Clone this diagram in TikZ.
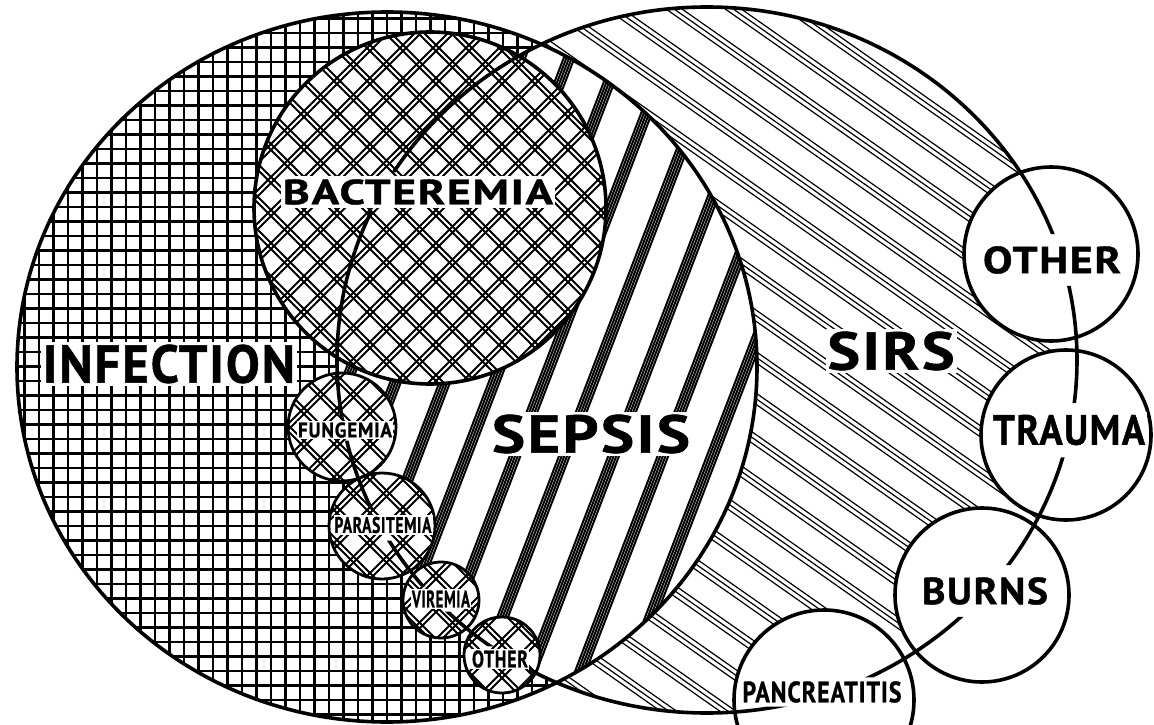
\documentclass[tikz,border=0pt]{standalone}
\usepackage{fontspec}
\setmainfont{PT Sans}
\newfontfamily\lf[LetterSpace=4,BoldFeatures={FakeBold=1}]{PT Sans}
\usepackage{graphicx}
\newcommand{\lbltext}[4]{\resizebox{#1}{#2}{\lf\bfseries\fontsize{#3}{#3}\selectfont #4}}
\begin{document}
\begin{tikzpicture}[x=1pt,y=-1pt,
  gridl/.style={line width=2.3pt,black},
  sirsl/.style={line width=1.2pt,black},
  sepl/.style={line width=2pt,black},
  bacl/.style={line width=1.9pt,black},
  outl/.style={line width=3.6pt,black},
  smallout/.style={line width=2.8pt,black},
  lbl/.style={fill=white,inner xsep=2pt,inner ysep=3pt,outer sep=0pt,anchor=center},
  slbl/.style={fill=white,inner xsep=1pt,inner ysep=1.5pt,outer sep=0pt,anchor=center}]
\useasboundingbox (0,0) rectangle (1154,725);
\fill[white] (0,0) rectangle (1154,725);
% ---- infection: square grid
\begin{scope}
\clip (387,367) ellipse [x radius=370pt, y radius=355pt];
\foreach \x in {10,24.5,...,770} \draw[gridl] (\x,0) -- (\x,725);
\foreach \y in {4,18.5,...,730} \draw[gridl] (0,\y) -- (770,\y);
\end{scope}
% ---- SIRS: triple diagonal lines
\begin{scope}
\clip (707,360) ellipse [x radius=370pt, y radius=353pt];
\foreach \c in {-690,-656,...,430} \foreach \o in {0,4.6,9.2}
  \draw[sirsl] ({-0.574*(\c+\o)-100*0.819},{0.819*(\c+\o)-100*0.574}) -- ({-0.574*(\c+\o)+1400*0.819},{0.819*(\c+\o)+1400*0.574});
\end{scope}
% ---- sepsis lens: bold stripes
\begin{scope}
\clip (387,367) ellipse [x radius=370pt, y radius=355pt];
\clip (707,360) ellipse [x radius=370pt, y radius=353pt];
\fill[white] (300,0) rectangle (800,725);
\foreach \c in {322,368,...,1000} \foreach \o in {-5,-2.5,0,2.5,5}
  \draw[sepl] ({0.934*(\c+\o)-600*0.358},{0.358*(\c+\o)+600*0.934}) -- ({0.934*(\c+\o)+300*0.358},{0.358*(\c+\o)-300*0.934});
\end{scope}
% ---- bacteremia and small circles: double crosshatch
\begin{scope}
\clip (430,208) circle[radius=176pt] (342,427) circle[radius=54pt] (382,526) circle[radius=53pt] (441,600) circle[radius=38pt] (502,655) circle[radius=38pt];
\fill[white] (200,0) rectangle (700,725);
\foreach \k in {250,283,...,1290} \foreach \o in {0,6}
  \draw[bacl] ({\k+\o+100},-100) -- ({\k+\o-900},900);
\foreach \k in {-440,-407,...,620} \foreach \o in {0,6}
  \draw[bacl] ({\k+\o-100},-100) -- ({\k+\o+900},900);
\end{scope}
\draw[outl] (430,208) circle[radius=176pt];
\draw[smallout] (342,427) circle[radius=54pt];
\draw[smallout] (382,526) circle[radius=53pt];
\draw[smallout] (441,600) circle[radius=38pt];
\draw[smallout] (502,655) circle[radius=38pt];
% ---- right circles
\fill[white] (1051,254) circle[radius=87pt] (1066,435) circle[radius=85pt] (982,595) circle[radius=87pt] (824,700) circle[radius=90pt];
\draw[outl] (1051,254) circle[radius=87pt];
\draw[outl] (1066,435) circle[radius=85pt];
\draw[outl] (982,595) circle[radius=87pt];
\draw[outl] (824,700) circle[radius=90pt];
% ---- infection outline
\draw[outl] (387,367) ellipse [x radius=370pt, y radius=355pt];
% ---- labels
\node[lbl] (inf) at (169,364) {\lbltext{252pt}{38pt}{54pt}{INFECTION}};
\node[lbl,outer ysep=4pt] (bac) at (418,192) {\lbltext{270pt}{25pt}{36pt}{BACTEREMIA}};
\node[lbl] (sep) at (591,434) {\lbltext{198pt}{38pt}{54pt}{SEPSIS}};
\node[lbl] (sirs) at (891,351) {\lbltext{127pt}{38pt}{54pt}{SIRS}};
\node[lbl,outer ysep=9pt] (oth) at (1052,260) {\lbltext{138pt}{27pt}{39pt}{OTHER}};
\node[lbl,outer ysep=9pt] (tra) at (1069,430) {\lbltext{152pt}{30pt}{43pt}{TRAUMA}};
\node[lbl,outer ysep=9pt] (bur) at (985,591) {\lbltext{126pt}{27pt}{39pt}{BURNS}};
\node[lbl,outer ysep=1pt] (pan) at (822,692) {\lbltext{159pt}{21pt}{30pt}{PANCREATITIS}};
\node[slbl,outer ysep=1.5pt] (fun) at (345,430) {\lbltext{94pt}{15pt}{21pt}{FUNGEMIA}};
\node[slbl,outer ysep=6pt] (par) at (383,525) {\lbltext{97pt}{16pt}{23pt}{PARASITEMIA}};
\node[slbl,outer ysep=2.5pt] (vir) at (441,599) {\lbltext{58pt}{17pt}{24pt}{VIREMIA}};
\node[slbl,outer ysep=2.5pt] (oths) at (500,659) {\lbltext{56pt}{17pt}{24pt}{OTHER}};
% ---- SIRS outline, interrupted at labels
\begin{scope}
\clip (-10,-10) -- (1170,-10) -- (1170,740) -- (-10,740) -- cycle
  (bac.north west) -- (bac.south west) -- (bac.south east) -- (bac.north east) -- cycle
  (fun.north west) -- (fun.south west) -- (fun.south east) -- (fun.north east) -- cycle
  (par.north west) -- (par.south west) -- (par.south east) -- (par.north east) -- cycle
  (vir.north west) -- (vir.south west) -- (vir.south east) -- (vir.north east) -- cycle
  (oths.north west) -- (oths.south west) -- (oths.south east) -- (oths.north east) -- cycle
  (oth.north west) -- (oth.south west) -- (oth.south east) -- (oth.north east) -- cycle
  (tra.north west) -- (tra.south west) -- (tra.south east) -- (tra.north east) -- cycle
  (bur.north west) -- (bur.south west) -- (bur.south east) -- (bur.north east) -- cycle
  (pan.north west) -- (pan.south west) -- (pan.south east) -- (pan.north east) -- cycle;
\draw[outl] (707,360) ellipse [x radius=370pt, y radius=353pt];
\end{scope}
\end{tikzpicture}
\end{document}
